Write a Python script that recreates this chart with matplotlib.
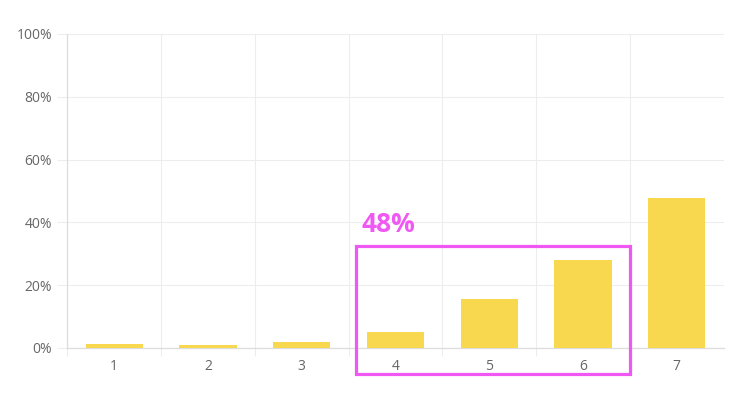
import matplotlib
matplotlib.use('Agg')
from matplotlib import pyplot as plt
from matplotlib.patches import Rectangle
import numpy as np

# Data
categories = ['1', '2', '3', '4', '5', '6', '7']
shares = [1.2, 0.8, 1.9, 5.1, 15.5, 28.0, 47.7]
highlight_label = '48%'
y_ticks = [0, 20, 40, 60, 80, 100]

bar_color = '#F7D84F'
accent = '#EF58F3'
grid_color = '#EDEDED'
text_color = '#666666'

plt.rcParams['font.family'] = ['Open Sans', 'DejaVu Sans']

fig = plt.figure(figsize=(7.5, 4.16), dpi=100)
ax = fig.add_axes([0.0897, 0.1635, 0.8753, 0.7548])

x = np.arange(len(categories))
ax.bar(x, shares, width=0.61, color=bar_color, zorder=3)

ax.set_xlim(-0.5, len(categories) - 0.5)
ax.set_ylim(0, 100)

# category labels at centres, grid lines on the boundaries
ax.set_xticks(x)
ax.set_xticklabels(categories)
ax.set_xticks(np.arange(-0.5, len(categories) - 1), minor=True)
ax.tick_params(axis='x', which='major', length=0, pad=8,
               labelsize=10, labelcolor=text_color)
ax.tick_params(axis='x', which='minor', length=6, width=0.8, color=grid_color)
ax.grid(axis='x', which='minor', color=grid_color, linewidth=0.8, zorder=0)

ax.set_yticks(y_ticks)
ax.set_yticklabels([f'{t}%' for t in y_ticks])
ax.tick_params(axis='y', length=7, width=0.8, color=grid_color, pad=4,
               labelsize=10, labelcolor=text_color)
ax.grid(axis='y', color=grid_color, linewidth=0.8, zorder=0)

for side in ['top', 'right']:
    ax.spines[side].set_visible(False)
for side in ['left', 'bottom']:
    ax.spines[side].set_color('#DDDDDD')
    ax.spines[side].set_linewidth(0.9)

# highlight box around categories 4-6
box = Rectangle((2.577, -8.25), 2.927, 40.65, fill=False, edgecolor=accent,
                linewidth=2.3, clip_on=False, zorder=5)
ax.add_patch(box)
ax.text(2.64, 36.9, highlight_label, color=accent, fontsize=19,
        fontweight='bold', ha='left', va='baseline', zorder=5)

fig.savefig('out.png', dpi=100)
